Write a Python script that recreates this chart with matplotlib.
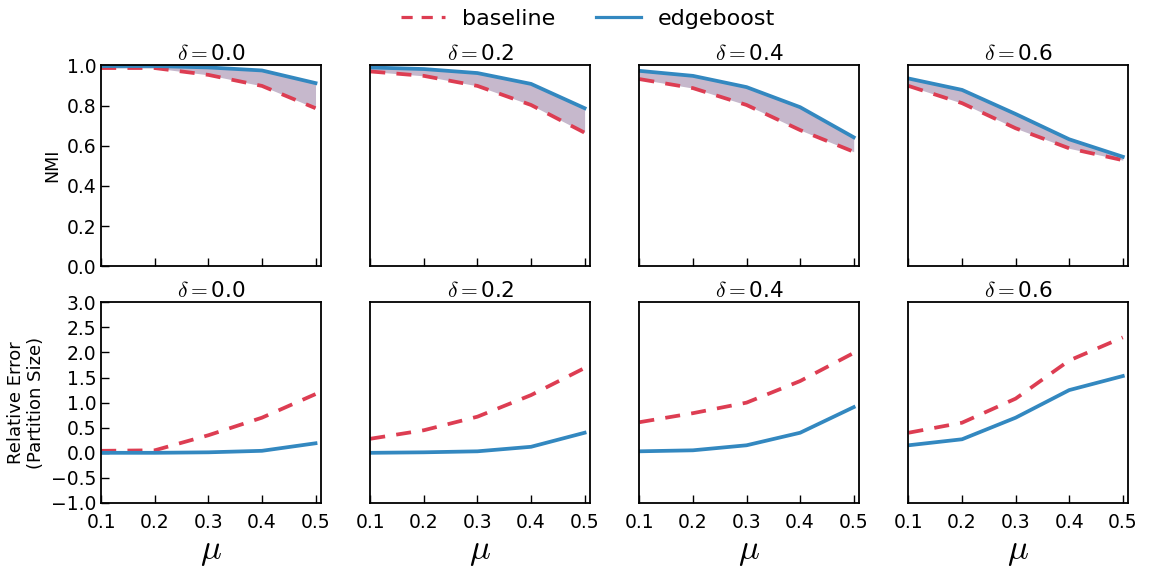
import numpy as np
import matplotlib.pyplot as plt
from matplotlib.lines import Line2D

plt.rcParams['mathtext.fontset'] = 'cm'
plt.rcParams['font.family'] = 'DejaVu Sans'

mu = [0.1, 0.2, 0.3, 0.4, 0.5]
deltas = ['0.0', '0.2', '0.4', '0.6']

# NMI (top row)
nmi_base = [
    [0.987, 0.987, 0.953, 0.898, 0.787],
    [0.970, 0.948, 0.898, 0.803, 0.665],
    [0.932, 0.887, 0.803, 0.678, 0.570],
    [0.898, 0.812, 0.687, 0.587, 0.528],
]
nmi_edge = [
    [0.997, 0.997, 0.990, 0.975, 0.912],
    [0.990, 0.982, 0.962, 0.908, 0.787],
    [0.973, 0.948, 0.892, 0.792, 0.642],
    [0.935, 0.878, 0.758, 0.632, 0.545],
]

# relative error in partition size (bottom row)
err_base = [
    [0.04, 0.05, 0.35, 0.70, 1.17],
    [0.28, 0.45, 0.72, 1.15, 1.69],
    [0.61, 0.79, 1.00, 1.43, 1.99],
    [0.40, 0.60, 1.08, 1.84, 2.30],
]
err_edge = [
    [0.00, 0.00, 0.01, 0.04, 0.19],
    [0.00, 0.01, 0.03, 0.12, 0.40],
    [0.03, 0.05, 0.15, 0.40, 0.91],
    [0.15, 0.27, 0.70, 1.25, 1.53],
]

red = '#DD3D52'
blue = '#3388C0'
fillc = '#C6B8CC'

fig, axes = plt.subplots(2, 4, figsize=(11.5, 5.69), dpi=100)
fig.subplots_adjust(left=0.088, right=0.981, top=0.885, bottom=0.116,
                    wspace=0.225, hspace=0.18)

for j in range(4):
    ax = axes[0, j]
    ax.fill_between(mu, nmi_base[j], nmi_edge[j], color=fillc, lw=0)
    ax.plot(mu, nmi_base[j], '--', color=red, lw=2.7, dashes=(4, 3))
    ax.plot(mu, nmi_edge[j], '-', color=blue, lw=2.7)
    ax.set_ylim(0, 1.0)
    ax.set_yticks([0.0, 0.2, 0.4, 0.6, 0.8, 1.0])
    ax.set_title(r'$\delta=$' + deltas[j], fontsize=15.5, pad=4)

    ax2 = axes[1, j]
    ax2.plot(mu, err_base[j], '--', color=red, lw=2.7, dashes=(4, 3))
    ax2.plot(mu, err_edge[j], '-', color=blue, lw=2.7)
    ax2.set_ylim(-1, 3)
    ax2.set_yticks(np.arange(-1.0, 3.01, 0.5))
    ax2.set_title(r'$\delta=$' + deltas[j], fontsize=15.5, pad=4)
    ax2.set_xlabel(r'$\mu$', fontsize=25, labelpad=2)

for ax in axes.flat:
    ax.set_xlim(0.1, 0.51)
    ax.set_xticks(mu)
    ax.tick_params(direction='in', length=6, width=1, labelsize=13.5,
                   top=False, right=False)
    ax.tick_params(axis='x', pad=7)
    for s in ax.spines.values():
        s.set_linewidth(1.3)
for ax in axes[0]:
    ax.set_xticklabels([])
for ax in axes[1]:
    ax.set_xticklabels(['0.1', '0.2', '0.3', '0.4', '0.5'])
for ax in axes[:, 1:].flat:
    ax.set_yticks([])

axes[0, 0].set_ylabel('NMI', fontsize=12.5)
axes[1, 0].set_ylabel('Relative Error\n(Partition Size)', fontsize=13)

h_base = Line2D([], [], color=red, lw=2.3, dashes=(3.5, 2.8))
h_edge = Line2D([], [], color=blue, lw=2.3)
fig.legend([h_base, h_edge], ['baseline', 'edgeboost'], loc='upper center',
           ncol=2, frameon=False, fontsize=16, handlelength=2.0,
           handletextpad=0.75, columnspacing=1.85,
           bbox_to_anchor=(0.511, 1.02))

fig.savefig('out.png')
